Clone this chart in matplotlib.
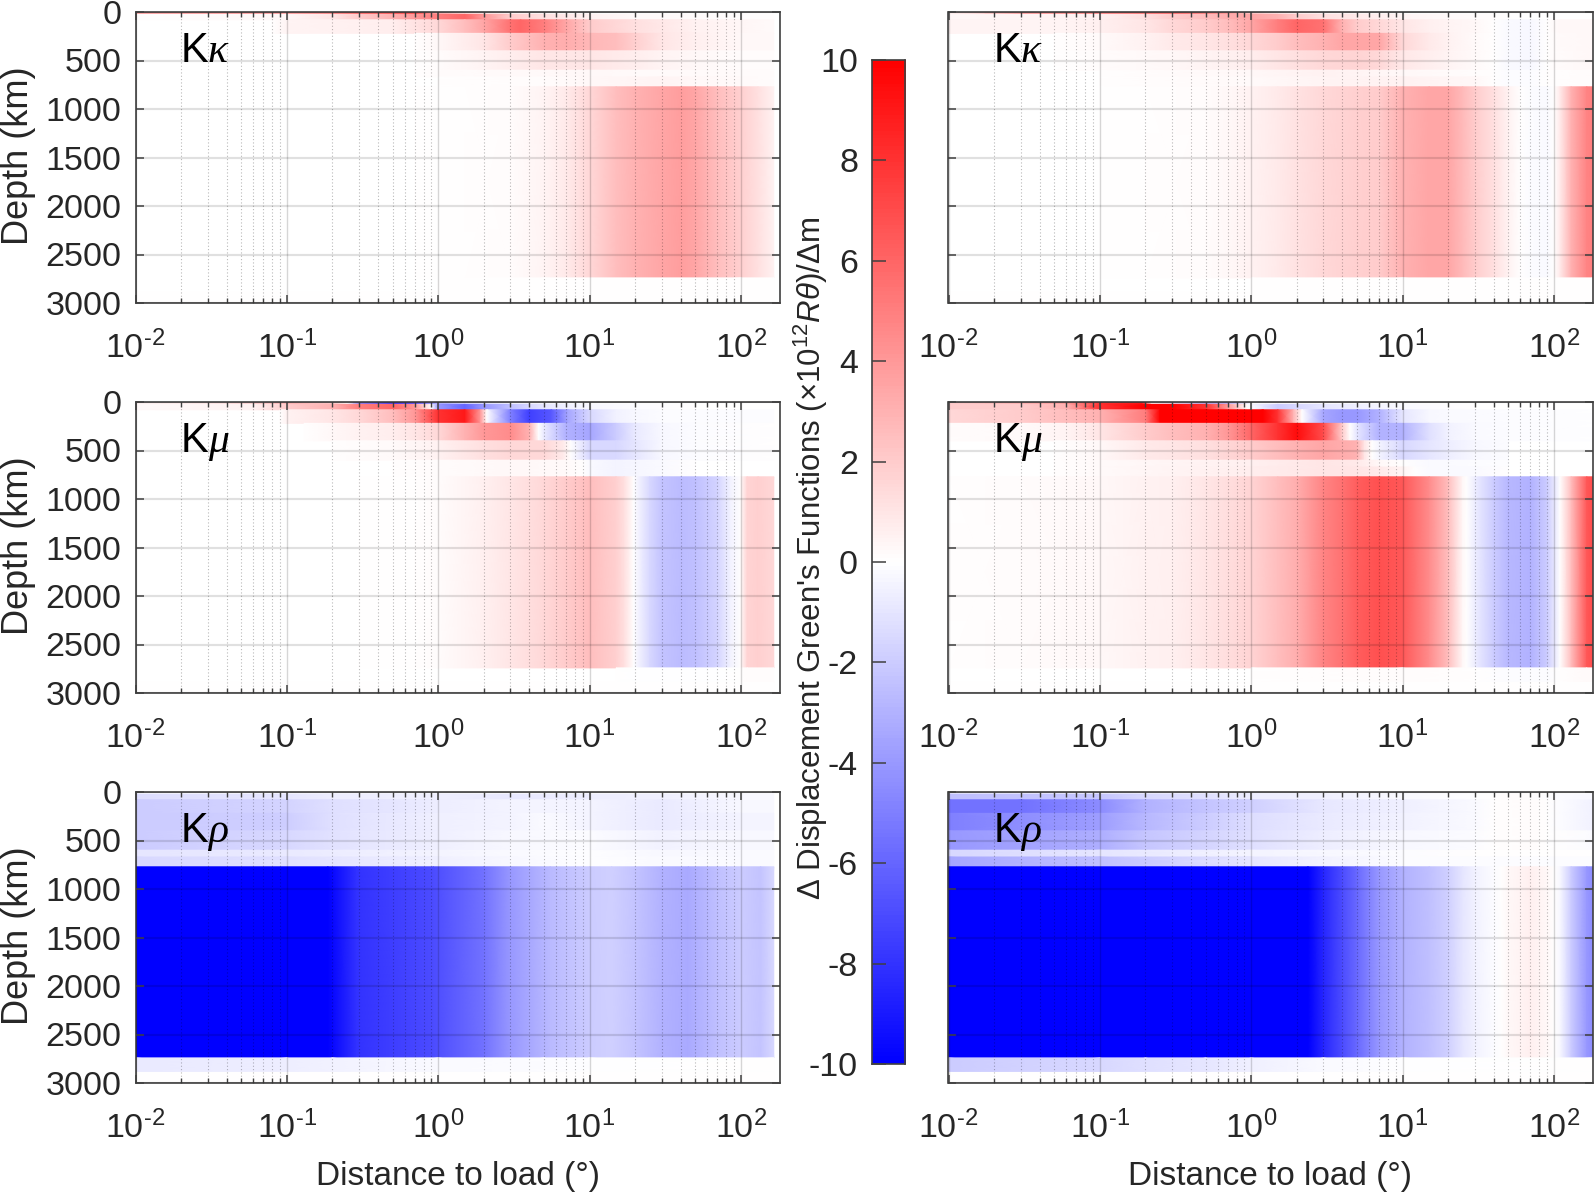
#! /usr/bin/env python3
import numpy as np
import matplotlib
matplotlib.use('Agg')
import matplotlib.pyplot as plt
from matplotlib.ticker import LogLocator, NullFormatter, FixedLocator, FuncFormatter

plt.rcParams['font.family'] = ['Liberation Sans', 'DejaVu Sans']
plt.rcParams['mathtext.fontset'] = 'custom'
plt.rcParams['mathtext.rm'] = 'Liberation Sans'
plt.rcParams['mathtext.it'] = 'Liberation Sans:italic'
plt.rcParams['mathtext.default'] = 'regular'
plt.rcParams['axes.unicode_minus'] = False

# layer boundaries in km
LAYERS = [0, 24, 80, 220, 400, 600, 670, 771, 2741, 2891, 3000]

# one (distance, value) row per layer, values
KK_LEFT = [
    ([0.01, 0.1, 0.2, 0.3, 0.7, 1, 1.5, 3, 10], [4, 4, 5, 6, 7, 3, 1, 0.3, 0]),
    ([0.01, 0.1, 0.2, 0.3, 0.5, 1, 1.5, 2, 3, 5, 10, 20, 165], [0, 0.3, 1, 2, 3, 5, 6, 4, 2, 1.2, 0.5, 0.2, 0]),
    ([0.08, 0.1, 0.2, 0.5, 1, 1.5, 2, 3, 3.5, 5, 7, 10, 20, 50, 165], [0, 0.4, 0.5, 0.7, 1.5, 2.5, 3.5, 5.5, 6, 5, 3.5, 2, 1.2, 0.5, 0.2]),
    ([0.7, 1, 2, 3, 5, 7, 10, 15, 20, 30, 50, 100, 165], [0, 0.3, 1, 2, 3, 3.2, 2.8, 2.5, 1.8, 1, 0.6, 0.3, 0.3]),
    ([0.7, 1, 2, 3, 5, 10, 20, 30, 50, 100, 165], [0, 0.1, 0.4, 0.7, 1, 1, 0.7, 0.4, 0.3, 0.1, 0.1]),
    ([0.7, 1, 3, 10, 20, 50, 165], [0, 0.1, 0.2, 0.3, 0.2, 0.2, 0.1]),
    ([1, 5, 10, 30, 50, 100, 165], [0, 0.15, 0.3, 0.4, 0.3, 0.2, 0.1]),
    ([0.7, 1.5, 3, 5, 7, 10, 15, 20, 30, 40, 50, 70, 100, 130, 165], [0, 0.05, 0.15, 0.4, 0.8, 1.5, 2.5, 3, 3.5, 3.8, 3.5, 2.5, 1.8, 1.2, 0.5]),
    ([1, 5, 100, 165], [0, 0.05, 0.05, 0]),
    ([0.01, 165], [0, 0]),
]

KK_RIGHT = [
    ([0.01, 0.03, 0.1, 0.3, 0.5, 0.7, 1, 1.5, 2, 3, 10], [0.5, 4, 5, 6, 5, 4, 2, 0.8, 0.5, 0.3, 0]),
    ([0.01, 0.1, 0.2, 0.3, 0.5, 0.7, 1, 1.5, 2, 3, 5, 10, 20, 50], [0.3, 0.5, 1.2, 2, 2.5, 3.2, 3.5, 3, 2, 1.2, 0.8, 0.4, 0.2, 0]),
    ([0.01, 0.06, 0.1, 0.2, 0.3, 0.5, 0.7, 1, 1.5, 2, 3, 4, 5, 7, 10, 15, 20, 30, 40, 50, 70, 90, 110, 180], [0.4, 0.4, 0.6, 1, 1.5, 2, 2.5, 3.5, 5, 6, 5.5, 3, 2, 1.5, 1, 0.6, 0.4, 0.3, 0, -0.2, -0.3, 0, 0.3, 0.3]),
    ([0.05, 0.1, 0.2, 0.3, 0.5, 0.7, 1, 1.5, 2, 3, 4, 7, 10, 15, 20, 30, 40, 50, 70, 90, 110, 180], [0, 0.2, 0.5, 0.8, 1, 1.2, 1.5, 2, 2.5, 3, 3.5, 3.5, 1.5, 0.8, 0.5, 0.2, 0, -0.2, -0.3, 0, 0.2, 0.3]),
    ([0.05, 0.1, 0.3, 1, 2, 3, 5, 7, 10, 20, 40, 50, 70, 90, 100, 180], [0, 0.1, 0.3, 0.7, 1.2, 1.5, 1.7, 1.5, 0.9, 0.4, 0, -0.2, -0.3, 0, 0.1, 0.3]),
    ([0.1, 1, 3, 10, 40, 50, 70, 90, 180], [0, 0.3, 0.5, 0.3, 0, -0.1, -0.1, 0, 0.1]),
    ([0.1, 1, 3, 10, 30, 40, 50, 70, 90, 180], [0, 0.2, 0.4, 0.5, 0.3, 0, -0.1, -0.1, 0, 0.1]),
    ([0.1, 0.2, 0.5, 0.7, 1, 1.5, 2, 3, 5, 7, 10, 15, 20, 25, 30, 40, 50, 60, 70, 90, 100, 110, 130, 165, 180], [0, 0.05, 0.15, 0.3, 0.5, 0.8, 1.1, 1.5, 1.8, 2, 3, 3.5, 3.5, 2.7, 2, 1.2, 0.5, 0, -0.1, -0.2, 0, 0.8, 3, 4.8, 5]),
    ([1, 10, 100, 180], [0, 0.05, 0.05, 0]),
    ([0.01, 180], [0, 0]),
]

KM_LEFT = [
    ([0.01, 0.03, 0.06, 0.1, 0.2, 0.25, 0.3, 0.5, 0.7, 1, 1.5, 3, 10], [0.5, 1, 2, 3, 2, 0, -5, -8, -7, -3, -1, -0.2, 0]),
    ([0.01, 0.06, 0.1, 0.2, 0.3, 0.5, 0.7, 0.9, 1, 1.5, 2, 3, 4, 5, 7, 10, 20, 50], [0.2, 0.5, 2, 3, 5, 6, 4, 0, -4, -6, -4, -2.5, -1.5, -1, -0.6, -0.3, -0.1, 0]),
    ([0.09, 0.1, 0.2, 0.3, 0.5, 0.7, 1, 1.5, 1.9, 2.1, 3, 4, 5.6, 7.2, 10, 15, 20, 30, 165], [0, 0.5, 1, 1.5, 2.5, 4, 8, 9, 4, 0, -5, -7.5, -6.5, -3.5, -1.5, -0.5, -0.3, -0.1, -0.1]),
    ([0.13, 0.2, 0.3, 0.5, 0.7, 1, 1.5, 2, 3, 4, 4.6, 5, 7, 10, 15, 20, 30, 50, 165], [0, 0.3, 0.5, 0.7, 1, 1.5, 3, 4, 4.5, 3, 0, -0.8, -3, -3.5, -2, -0.8, -0.3, -0.1, 0]),
    ([0.2, 0.3, 0.5, 1, 2, 3, 5, 6.7, 7.5, 10, 15, 20, 30, 50, 165], [0, 0.1, 0.2, 0.5, 1.2, 1.5, 1.5, 0.8, 0, -1.5, -1.5, -1, -0.3, -0.1, 0]),
    ([0.5, 1, 3, 7, 9, 10, 15, 30, 50], [0, 0.1, 0.3, 0.2, 0, -0.2, -0.4, -0.2, 0]),
    ([0.5, 1, 3, 7, 9, 10, 15, 30, 50], [0, 0.1, 0.3, 0.2, 0, -0.2, -0.4, -0.2, 0]),
    ([0.3, 0.5, 0.7, 1, 2, 3, 5, 7, 10, 15, 17, 19.5, 25, 30, 40, 50, 70, 85, 99, 110, 130, 165], [0, 0.03, 0.06, 0.15, 0.6, 1, 1.5, 2, 2.5, 1.8, 1.2, 0, -1.5, -2.3, -2.6, -2.5, -1.7, -0.5, 0, 1.7, 1.8, 1.5]),
    ([15, 20, 70, 99, 110, 165], [0, -0.05, -0.05, 0, 0.1, 0.1]),
    ([0.01, 165], [0, 0]),
]

KM_RIGHT = [
    ([0.01, 0.03, 0.06, 0.1, 0.19, 0.22, 0.3, 0.5, 0.7, 1, 3], [2, 3, 4, 8, 9, 0, -1, -3, -3, 0, 0]),
    ([0.01, 0.03, 0.06, 0.1, 0.2, 0.3, 0.5, 0.7, 0.95, 1.5, 2, 3, 5, 10, 30], [2, 2, 3, 8, 10, 10, 8, 4, 0, -2, -1.5, -1, -0.6, -0.2, 0]),
    ([0.01, 0.03, 0.06, 0.1, 0.2, 0.25, 0.5, 1.2, 1.5, 1.9, 2.17, 3, 4, 5, 7, 10, 15, 20, 50, 180], [1.5, 2, 2.5, 3, 5, 10, 10, 10, 8, 3, 0, -3.5, -4, -4, -3, -1, -0.3, -0.2, -0.1, -0.05]),
    ([0.01, 0.03, 0.06, 0.1, 0.2, 0.3, 0.5, 0.7, 1, 1.5, 2, 3, 4, 4.5, 5, 7, 10, 15, 20, 30, 50, 180], [0.1, 0.2, 0.4, 1, 2, 2.5, 3, 4, 6, 8, 9.5, 7, 2, 0, -1, -3, -3, -1.2, -0.5, -0.2, -0.1, -0.05]),
    ([0.05, 0.1, 0.2, 0.3, 0.5, 1, 2, 3, 5, 5.6, 6.3, 7, 10, 15, 20, 30, 50], [0, 0.3, 0.8, 1, 1.2, 2, 3, 3.5, 3, 1, 0, -0.4, -1.5, -1, -0.7, -0.3, -0.1]),
    ([0.05, 0.1, 1, 3, 5, 7, 10, 15, 50], [0, 0.2, 0.6, 1, 0.8, 0.3, 0, -0.2, -0.05]),
    ([0.05, 0.1, 1, 3, 5, 7, 10, 12, 15, 30, 50], [0, 0.2, 0.7, 1, 1, 0.8, 0.4, 0, -0.2, -0.2, 0]),
    ([0.01, 0.03, 0.1, 0.2, 0.3, 0.5, 0.7, 1, 1.5, 2, 3, 4, 5, 7, 10, 15, 20, 25, 26.5, 30, 40, 50, 70, 90, 110, 130, 165, 180], [0, 0.1, 0.3, 0.5, 0.6, 1, 1.3, 1.7, 2.5, 3.2, 4.8, 5.5, 6.3, 6.8, 6.5, 4.5, 2.5, 0.3, 0, -0.7, -2, -2.8, -3, -2, 0, 2.5, 6.5, 7]),
    ([1, 10, 30, 50, 90, 110, 165, 180], [0, 0.15, 0, -0.1, -0.1, 0, 0.2, 0.2]),
    ([0.01, 180], [0, 0]),
]

KR_LEFT = [
    ([0.01, 0.1, 1, 10, 165], [-0.3, -0.3, -0.2, -0.1, -0.1]),
    ([0.01, 0.1, 0.2, 1, 3, 10, 30, 100, 165], [-1.3, -1, -0.7, -0.6, -0.9, -0.7, -0.6, -0.3, -0.3]),
    ([0.01, 0.1, 0.2, 0.5, 1, 3, 10, 30, 100, 165], [-2, -1.7, -1.2, -1, -0.7, -0.4, -0.4, -0.8, -0.3, -0.3]),
    ([0.01, 0.1, 0.2, 1, 3, 5, 10, 30, 100, 165], [-2, -1.9, -1.2, -0.6, -0.4, -0.2, -0.4, -0.8, -0.4, -0.4]),
    ([0.01, 0.1, 0.2, 1, 3, 10, 30, 100, 165], [-2, -1.5, -1.1, -0.6, -0.3, -0.1, -0.5, -0.3, -0.3]),
    ([0.01, 0.1, 1, 3, 10, 30, 100, 165], [-1, -0.8, -0.4, -0.2, -0.05, -0.3, -0.2, -0.2]),
    ([0.01, 0.1, 1, 3, 10, 30, 100, 165], [-1.5, -1.2, -0.6, -0.3, -0.05, -0.2, -0.2, -0.2]),
    ([0.01, 0.187, 0.29, 0.93, 2, 3, 5.5, 10, 14, 20, 30, 45, 70, 100, 135, 165], [-10, -10, -8, -7, -5.5, -4, -2.7, -2, -1.8, -2.3, -3, -3.3, -2.5, -2, -2.3, -1.5]),
    ([0.01, 0.1, 0.2, 1, 5, 10, 165], [-0.8, -0.7, -0.5, -0.2, -0.1, -0.05, 0]),
    ([0.01, 165], [0, 0]),
]

KR_RIGHT = [
    ([0.01, 0.1, 1, 10, 30, 180], [-0.8, -0.7, -0.4, -0.1, 0, -0.05]),
    ([0.01, 0.1, 0.2, 0.5, 1, 3, 10, 30, 40, 50, 60, 100, 180], [-2.5, -2.2, -1.5, -1.2, -0.7, -0.6, -0.2, -0.05, 0, 0.1, 0.1, -0.1, -0.3]),
    ([0.01, 0.03, 0.1, 0.2, 0.5, 1, 3, 10, 30, 40, 70, 90, 110, 180], [-5.5, -5.5, -4.5, -3, -2.3, -1.8, -0.9, -0.6, -0.2, 0, 0.1, 0, -0.1, -0.5]),
    ([0.01, 0.1, 0.2, 0.5, 1, 3, 10, 30, 40, 70, 90, 110, 180], [-5, -3.8, -2.8, -2, -1.3, -0.8, -0.5, -0.2, 0, 0.1, 0, -0.1, -0.5]),
    ([0.01, 0.1, 0.2, 0.5, 1, 3, 10, 30, 40, 70, 90, 165, 180], [-4, -3.2, -2.2, -1.7, -1.2, -0.7, -0.3, -0.1, 0, 0.1, 0, -0.1, -0.2]),
    ([0.01, 0.1, 1, 10, 30, 180], [-1.5, -1, -0.4, -0.1, 0, 0]),
    ([0.01, 0.1, 1, 3, 10, 30, 180], [-3.5, -2.5, -1, -0.5, -0.1, -0.1, -0.1]),
    ([0.01, 2.38, 3, 4, 4.9, 7, 10, 15, 20, 25, 30, 40, 45, 50, 70, 90, 100, 110, 130, 165, 180], [-10, -10, -8.5, -7, -6, -4, -3, -2.5, -1.8, -1, -0.5, -0.1, 0, 0.3, 0.6, 0.3, 0, -0.3, -2, -4, -4.5]),
    ([0.01, 0.1, 0.2, 0.5, 1, 3, 10, 180], [-2, -1.5, -1.2, -1, -0.6, -0.2, -0.05, 0]),
    ([0.01, 180], [0, 0]),
]

PANELS = [KK_LEFT, KK_RIGHT, KM_LEFT, KM_RIGHT, KR_LEFT, KR_RIGHT]
NAMES = ['\u03ba', '\u03ba', '\u03bc', '\u03bc', '\u03c1', '\u03c1']

DEPTH_TICKS = [0, 500, 1000, 1500, 2000, 2500, 3000]
CBAR_TICKS = [-10, -8, -6, -4, -2, 0, 2, 4, 6, 8, 10]

W, H = 1594, 1193
TOPS = [12, 402, 792]
AX_H = 291
AX_W = 644
LEFTS = [135.5, 948.5]
INK = '#262626'


def px_axes(fig, left, top, width, height):
    return fig.add_axes([left / W, 1 - (top + height) / H, width / W, height / H])


def decade_label(v, pos):
    e = int(round(np.log10(v)))
    if e < 0:
        return '10$^{\\text{-}%d}$' % abs(e)
    return '10$^{%d}$' % e


def draw_panel(ax, rows, show_depth):
    # each layer gets its own shaded strip so the steps in depth stay sharp
    for i, (xs, vals) in enumerate(rows):
        x = np.array([xs, xs], dtype=float)
        y = np.array([[LAYERS[i]] * len(xs), [LAYERS[i + 1]] * len(xs)], dtype=float)
        c = np.array([vals, vals], dtype=float)
        ax.pcolormesh(x, y, c, shading='gouraud', cmap='bwr', vmin=-10, vmax=10)

    ax.set_xscale('log')
    ax.set_xlim(0.01, 180)
    ax.set_ylim(3000, 0)
    ax.set_yticks(DEPTH_TICKS)
    ax.xaxis.set_major_locator(LogLocator(base=10, numticks=8))
    ax.xaxis.set_major_formatter(FuncFormatter(decade_label))
    ax.xaxis.set_minor_locator(LogLocator(base=10, subs=np.arange(2, 10), numticks=8))
    ax.xaxis.set_minor_formatter(NullFormatter())

    ax.grid(True, axis='y', which='major', color='black', alpha=0.12, lw=1.6)
    ax.grid(True, axis='x', which='major', color='black', alpha=0.16, lw=1.0)
    ax.grid(True, axis='x', which='minor', color='black', alpha=0.28, lw=0.8, ls=(0, (1, 2)))
    ax.set_axisbelow(False)

    ax.tick_params(axis='both', which='major', direction='in', top=True, right=True,
                   length=6, width=1.1, color='#404040', labelsize=24.5, labelcolor=INK)
    ax.tick_params(axis='x', which='minor', direction='in', top=True, length=3.5,
                   width=1.0, color='#404040')
    ax.tick_params(axis='x', which='major', pad=20)
    ax.tick_params(axis='y', which='major', pad=10, labelleft=show_depth)
    for sp in ax.spines.values():
        sp.set_color('#404040')
        sp.set_linewidth(1.2)


fig = plt.figure(figsize=(W / 100, H / 100), dpi=100)

for n, rows in enumerate(PANELS):
    row, col = n // 2, n % 2
    ax = px_axes(fig, LEFTS[col], TOPS[row], AX_W, AX_H)
    draw_panel(ax, rows, col == 0)
    ax.text(0.0695, 0.828, 'K', transform=ax.transAxes, fontsize=30, color='black', va='baseline')
    ax.text(0.112, 0.828, NAMES[n], transform=ax.transAxes, fontsize=30, color='black',
            va='baseline', family='Liberation Serif', style='italic')
    if col == 0:
        fig.text(19 / W, 1 - (TOPS[row] + AX_H / 2 - 2) / H, 'Depth (km)', rotation=90,
                 ha='center', va='center', fontsize=26, color=INK)
    if row == 2:
        fig.text((LEFTS[col] + AX_W / 2) / W, 1 - 1176.5 / H, 'Distance to load (\u00b0)',
                 ha='center', va='center', fontsize=24, color=INK)

# colour bar
cax = px_axes(fig, 872, 60, 33, 1004)
gradient = np.linspace(10, -10, 256).reshape(-1, 1)
cax.imshow(gradient, extent=[0, 1, -10, 10], aspect='auto', cmap='bwr', vmin=-10, vmax=10)
cax.set_xticks([])
cax.yaxis.set_major_locator(FixedLocator(CBAR_TICKS))
cax.tick_params(axis='y', direction='in', length=10, width=1.1, color='#404040',
                labelsize=24.5, labelcolor=INK, pad=10)
for sp in cax.spines.values():
    sp.set_color('#404040')
    sp.set_linewidth(1.2)

fig.text(811 / W, 1 - 558 / H,
         '\u0394 Displacement Green\'s Functions ($\\times$10$^{12}$$\\mathit{R\\theta}$)/\u0394m',
         rotation=90, ha='center', va='center', fontsize=22.5, color=INK)

fig.savefig('out.png', dpi=100)
